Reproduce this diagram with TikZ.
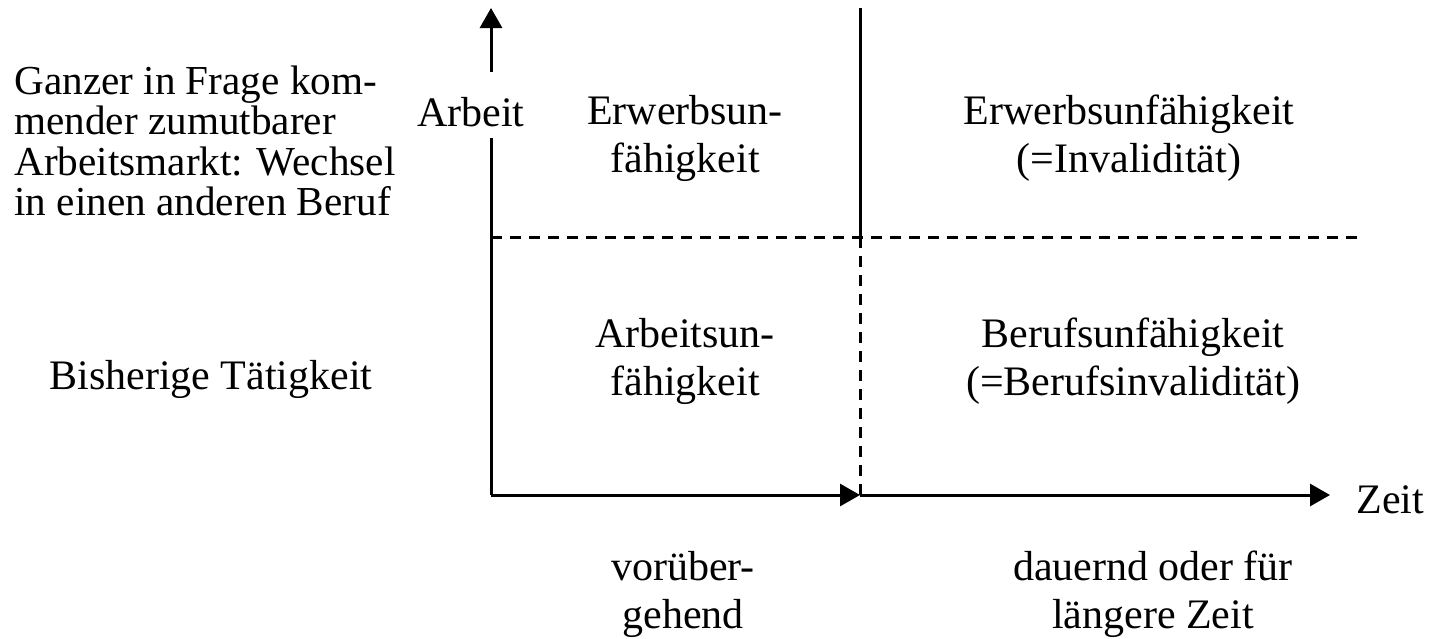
\documentclass[tikz,border=0pt]{standalone}
\usepackage{fontspec}
\setmainfont{Liberation Serif}
\usetikzlibrary{arrows.meta}
\begin{document}
\begin{tikzpicture}[x=0.5pt,y=-0.5pt,
  lbl/.style={inner sep=0pt,align=center,font=\fontsize{21pt}{24pt}\selectfont},
  axis/.style={line width=1.5pt,-{Triangle[length=10pt,width=11pt]}},
  solidline/.style={line width=1.5pt},
  dashline/.style={line width=1.5pt,dash pattern=on 5.5pt off 4pt}]
\useasboundingbox (0,0) rectangle (1433,638);
\coordinate (O) at (491,495);
\coordinate (Ytop) at (491,8);
\coordinate (Ygapb) at (491,138);
\coordinate (Ygapt) at (491,72);
\coordinate (M) at (860,495);
\coordinate (Xend) at (1330,495);
\coordinate (Vtop) at (860,8);
\coordinate (Vmid) at (860,237);
\coordinate (Hl) at (491,237);
\coordinate (Hr) at (1362,237);
\draw[solidline] (O) -- (Ygapb);
\draw[axis] (Ygapt) -- (Ytop);
\draw[axis] (O) -- (M);
\draw[axis] (M) -- (Xend);
\draw[solidline] (Vtop) -- (Vmid);
\draw[dashline] (Vmid) -- (M);
\draw[dashline] (Hl) -- (Hr);
\node[lbl,align=left,anchor=west,font=\fontsize{20.6pt}{20.3pt}\selectfont] (markt) at (14,141) {Ganzer in Frage kom-\\mender zumutbarer\\Arbeitsmarkt: Wechsel\\in einen anderen Beruf};
\node[lbl] (bisher) at (211,379) {Bisherige Tätigkeit};
\node[lbl] (arbeit) at (471,112) {Arbeit};
\node[lbl] (eu1) at (685,138) {Erwerbsun-\\fähigkeit};
\node[lbl] (eu2) at (1129,138) {Erwerbsunfähigkeit\\(=Invalidität)};
\node[lbl] (au) at (685,361) {Arbeitsun-\\fähigkeit};
\node[lbl] (bu) at (1133,361) {Berufsunfähigkeit\\(=Berufsinvalidität)};
\node[lbl,anchor=west] (zeit) at (1356,500) {Zeit};
\node[lbl] (vor) at (683,594) {vorüber-\\gehend};
\node[lbl] (dau) at (1153,594) {dauernd oder für\\längere Zeit};
\end{tikzpicture}
\end{document}
